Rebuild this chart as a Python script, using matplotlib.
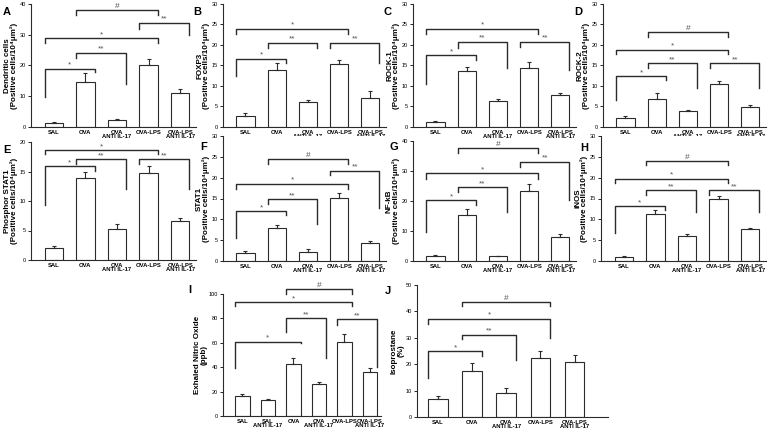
import numpy as np
import matplotlib
matplotlib.use('Agg')
import matplotlib.pyplot as plt

plt.rcParams['font.family'] = ['Liberation Sans', 'DejaVu Sans']

groups5 = ['SAL', 'OVA', 'OVA\nANTI IL-17', 'OVA-LPS', 'OVA-LPS\nANTI IL-17']
groups6 = ['SAL', 'SAL\nANTI IL-17', 'OVA', 'OVA\nANTI IL-17', 'OVA-LPS', 'OVA-LPS\nANTI IL-17']
unit = '(Positive cells/10\u2074\u03bcm\u00b2)'

# means / upper errors
a_mean = [1.2, 14.5, 2.2, 20.0, 11.0]
a_err = [0.3, 2.9, 0.3, 2.0, 1.2]
b_mean = [2.8, 13.8, 6.0, 15.4, 7.0]
b_err = [0.5, 1.8, 0.6, 0.9, 1.7]
c_mean = [1.2, 13.7, 6.4, 14.5, 7.9]
c_err = [0.2, 1.0, 0.5, 1.4, 0.3]
d_mean = [2.3, 6.9, 3.8, 10.4, 4.8]
d_err = [0.3, 1.5, 0.4, 0.8, 0.6]
e_mean = [2.0, 13.9, 5.3, 14.8, 6.6]
e_err = [0.4, 1.1, 0.8, 1.1, 0.6]
f_mean = [2.0, 7.9, 2.2, 15.1, 4.3]
f_err = [0.4, 0.8, 0.7, 1.3, 0.6]
g_mean = [1.7, 15.2, 1.6, 23.4, 7.9]
g_err = [0.2, 2.3, 0.2, 2.2, 1.0]
h_mean = [1.0, 11.4, 6.1, 14.8, 7.6]
h_err = [0.15, 0.8, 0.4, 0.7, 0.3]
i_mean = [16.5, 13.5, 43.0, 26.0, 60.5, 36.0]
i_err = [1.5, 0.8, 4.5, 1.5, 6.5, 3.0]
j_mean = [7.0, 17.5, 9.2, 22.3, 21.0]
j_err = [0.8, 3.0, 1.7, 2.8, 2.5]

# significance brackets: (from bar, to bar, top, left leg end, right leg end, mark)
a_br = [(0, 1, 19.0, 9.8, 18.0, '*'), (1, 2, 24.2, 22.3, 14.1, '**'), (0, 3, 28.8, 27.4, 27.4, '*'),
        (3, 4, 33.9, 32.0, 30.0, '**'), (1, 3, 38.0, 36.4, 36.4, '#')]
b_br = [(0, 1, 16.7, 12.4, 15.5, '*'), (1, 2, 20.6, 19.3, 19.3, '**'), (3, 4, 20.6, 19.2, 15.5, '**'),
        (0, 3, 24.0, 22.8, 22.8, '*')]
c_br = [(0, 1, 17.5, 10.6, 16.3, '*'), (1, 2, 20.8, 19.2, 14.3, '**'), (0, 3, 24.0, 22.8, 22.8, '*'),
        (3, 4, 20.8, 19.6, 13.9, '**')]
d_br = [(0, 1, 12.4, 6.5, 11.4, '*'), (1, 2, 15.5, 14.3, 9.4, '**'), (0, 3, 18.9, 17.9, 17.9, '*'),
        (3, 4, 15.5, 14.3, 9.4, '**'), (1, 3, 23.1, 22.0, 22.0, '#')]
e_br = [(0, 1, 15.9, 9.3, 15.1, '*'), (1, 2, 17.1, 16.3, 12.1, '**'), (0, 3, 18.6, 17.9, 17.9, '*'),
        (3, 4, 17.1, 16.3, 12.1, '**')]
f_br = [(0, 1, 12.0, 5.6, 11.0, '*'), (1, 2, 14.8, 13.8, 9.0, '**'), (0, 3, 18.6, 17.4, 17.4, '*'),
        (3, 4, 21.7, 20.6, 12.8, '**'), (1, 3, 24.5, 23.4, 23.4, '#')]
g_br = [(0, 1, 20.3, 9.7, 18.6, '*'), (1, 2, 24.7, 23.1, 16.4, '**'), (0, 3, 29.2, 27.5, 27.5, '*'),
        (3, 4, 33.1, 31.4, 20.3, '**'), (1, 3, 37.8, 36.1, 36.1, '#')]
h_br = [(0, 1, 13.2, 6.7, 12.2, '*'), (1, 2, 17.0, 15.8, 11.8, '**'), (0, 3, 19.8, 18.8, 18.8, '*'),
        (3, 4, 17.0, 15.8, 11.8, '**'), (1, 3, 24.1, 23.0, 23.0, '#')]
i_br = [(0, 2, 61.0, 39.0, 59.6, '*'), (2, 3, 80.2, 69.2, 47.3, '**'), (0, 4, 93.4, 89.8, 89.8, '*'),
        (4, 5, 79.4, 74.7, 40.4, '**'), (2, 4, 104.4, 100.0, 100.0, '#')]
j_br = [(0, 1, 25.0, 14.6, 23.1, '*'), (1, 2, 31.2, 29.4, 21.6, '**'), (0, 3, 37.2, 35.4, 30.0, '*'),
        (1, 3, 43.7, 41.9, 41.9, '#')]

W, H = 768, 432
BW = 0.58
EDGE = '#2b2b2b'

fig = plt.figure(figsize=(7.68, 4.32), dpi=100)


def panel(letter, box, letter_xy, ylab, groups, mean, err, brs, ymax, ystep, xlim):
    x0, y0, x1, y1 = box
    ax = fig.add_axes([x0 / W, 1 - y1 / H, (x1 - x0) / W, (y1 - y0) / H])
    x = np.arange(len(mean))
    ax.bar(x, mean, width=BW, color='white', edgecolor=EDGE, linewidth=0.8, zorder=2)
    ax.errorbar(x, mean, yerr=[np.zeros(len(err)), err], fmt='none', ecolor=EDGE,
                elinewidth=0.8, capsize=1.6, capthick=0.8, zorder=3)
    for i, j, top, yl, yr, mark in brs:
        xl, xr = i - BW / 2, j + BW / 2
        ax.plot([xl, xl, xr, xr], [yl, top, top, yr], color=EDGE, lw=1.0, clip_on=False, zorder=4)
        ax.text((xl + xr) / 2, top, mark, ha='center', va='bottom', fontsize=6,
                color='#555555', clip_on=False)
    ax.set_xlim(*xlim)
    ax.set_ylim(0, ymax)
    ax.set_yticks(np.arange(0, ymax + 0.01, ystep))
    ax.set_xticks(x)
    ax.set_xticklabels(groups, fontsize=4.2, fontweight='bold', linespacing=0.9)
    ax.tick_params(axis='x', length=0, pad=2)
    ax.tick_params(axis='y', length=2, width=0.6, labelsize=4, pad=1.5)
    for s in ['top', 'right']:
        ax.spines[s].set_visible(False)
    for s in ['left', 'bottom']:
        ax.spines[s].set_linewidth(0.8)
        ax.spines[s].set_color(EDGE)
    ax.set_ylabel(ylab, fontsize=5.8, fontweight='bold', linespacing=0.95, labelpad=1)
    fig.text(letter_xy[0] / W, 1 - letter_xy[1] / H, letter, fontsize=8, fontweight='bold',
             ha='left', va='center')
    return ax


xl5 = (-0.72, 4.5)
panel('A', (31, 4, 196, 127), (3, 12), 'Dendritic cells\n' + unit, groups5, a_mean, a_err, a_br, 40, 10, xl5)
panel('B', (223, 4, 386, 127), (193, 12), 'FOXP3\n' + unit, groups5, b_mean, b_err, b_br, 30, 5, xl5)
panel('C', (413, 4, 576, 127), (384, 12), 'ROCK-1\n' + unit, groups5, c_mean, c_err, c_br, 30, 5, xl5)
panel('D', (603, 4, 766, 127), (574, 12), 'ROCK-2\n' + unit, groups5, d_mean, d_err, d_br, 30, 5, xl5)
panel('E', (31, 142, 196, 260), (3, 150), 'Phosphor STAT1\n' + unit, groups5, e_mean, e_err, e_br, 20, 5, xl5)
panel('F', (223, 136, 386, 261), (200, 147), 'STAT1\n' + unit, groups5, f_mean, f_err, f_br, 30, 5, xl5)
panel('G', (413, 141, 576, 261), (389, 147), 'NF-kB\n' + unit, groups5, g_mean, g_err, g_br, 40, 10, xl5)
panel('H', (601, 136, 766, 261), (580, 148), 'iNOS\n' + unit, groups5, h_mean, h_err, h_br, 30, 5, xl5)
panel('I', (223, 294, 381, 416), (188, 290), 'Exhaled Nitric Oxide\n(ppb)', groups6, i_mean, i_err, i_br,
      100, 20, (-0.76, 5.43))
panel('J', (417, 285, 608, 417), (385, 291), 'Isoprostane\n(%)', groups5, j_mean, j_err, j_br,
      50, 10, (-0.62, 4.98))

fig.savefig('out.png', dpi=100)
